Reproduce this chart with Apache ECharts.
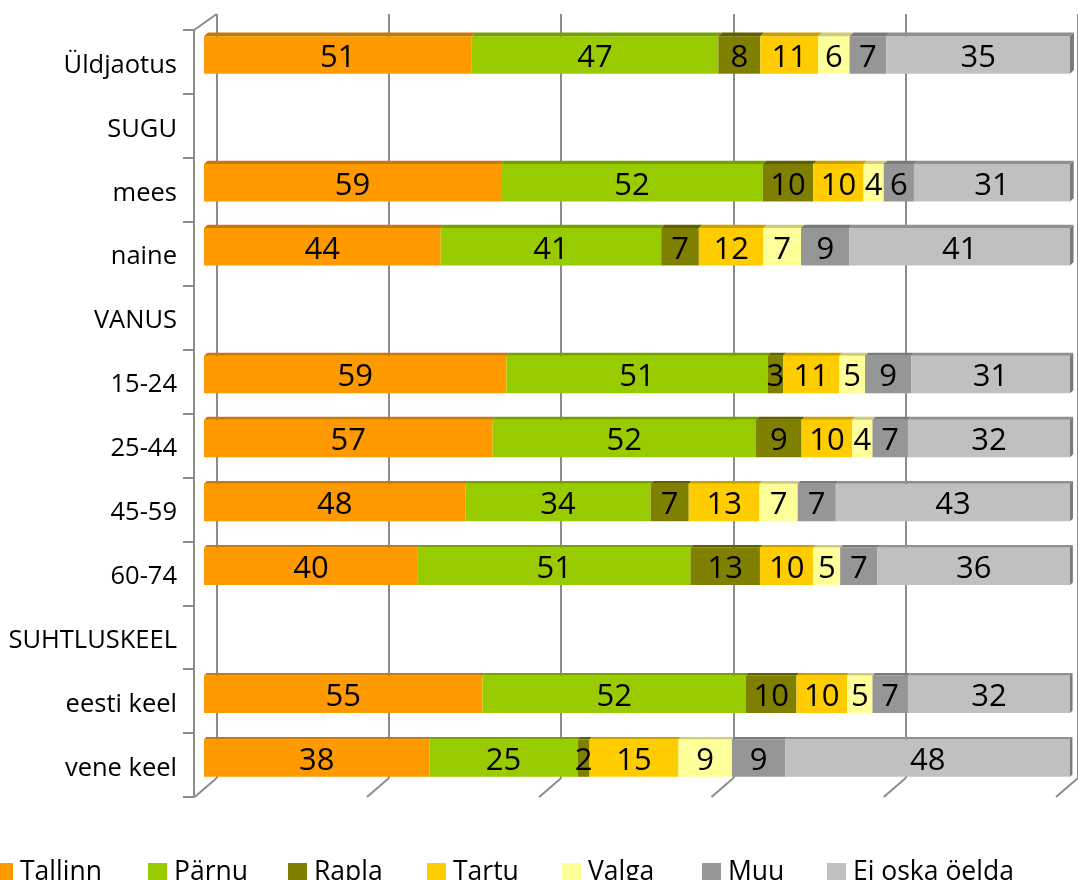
<!DOCTYPE html>
<html>
<head>
<meta charset="utf-8">
<script src="https://cdn.jsdelivr.net/npm/echarts@6/dist/echarts.min.js"></script>
<style>
html,body{margin:0;padding:0;background:#fff;}
#chart{width:1078px;height:880px;}
</style>
</head>
<body>
<div id="chart"></div>
<script>
const categories = ['Üldjaotus','SUGU','mees','naine','VANUS','15-24','25-44','45-59','60-74','SUHTLUSKEEL','eesti keel','vene keel'];
const seriesNames = ['Tallinn','Pärnu','Rapla','Tartu','Valga','Muu','Ei oska öelda'];
const tallinn = [51,null,59,44,null,59,57,48,40,null,55,38];
const parnu   = [47,null,52,41,null,51,52,34,51,null,52,25];
const rapla   = [8,null,10,7,null,3,9,7,13,null,10,2];
const tartu   = [11,null,10,12,null,11,10,13,10,null,10,15];
const valga   = [6,null,4,7,null,5,4,7,5,null,5,9];
const muu     = [7,null,6,9,null,9,7,7,7,null,7,9];
const eiOska  = [35,null,31,41,null,31,32,43,36,null,32,48];
const gridTicks = [0,20,40,60,80,100];

const raw = [tallinn, parnu, rapla, tartu, valga, muu, eiOska];
const colors = ['#FF9900','#99CC00','#808000','#FFCC00','#FFFF99','#969696','#C0C0C0'];
const topColors = ['#C47A08','#76A000','#5F5F00','#CCA000','#CCCC7A','#7A7A7A','#909090'];
const sideColors = ['#B06A00','#6A8F00','#505000','#B08C00','#B0B070','#6A6A6A','#7A7A7A'];

const totals = categories.map((c, i) => {
  let s = 0; let any = false;
  raw.forEach(a => { if (a[i] != null) { s += a[i]; any = true; } });
  return any ? s : null;
});
const pct = raw.map(a => a.map((v, i) => v == null ? null : v / totals[i] * 100));

const FONT = 'Open Sans';
const BAR_W = 37.5;

const barSeries = seriesNames.map((name, si) => ({
  name: name,
  type: 'bar',
  stack: 'all',
  xAxisIndex: 0, yAxisIndex: 0,
  barWidth: BAR_W,
  itemStyle: { color: colors[si] },
  label: {
    show: true, position: 'inside', color: '#000', fontSize: 31, fontFamily: FONT,
    textBorderWidth: 0, offset: [0, 3],
    formatter: p => raw[si][p.dataIndex] == null ? '' : String(raw[si][p.dataIndex])
  },
  emphasis: { disabled: true },
  z: 3,
  data: pct[si]
}));

// 3D faces (top and right side) drawn via scales
const faceData = [];
categories.forEach((c, ri) => {
  seriesNames.forEach((n, si) => { if (raw[si][ri] != null) faceData.push([ri, si]); });
});
const faceSeries = {
  type: 'custom',
  xAxisIndex: 0, yAxisIndex: 0,
  silent: true,
  z: 4,
  data: faceData,
  renderItem: function (params, api) {
    const ri = api.value(0), si = api.value(1);
    let start = 0;
    for (let k = 0; k < si; k++) start += pct[k][ri] || 0;
    const end = start + pct[si][ri];
    const p0 = api.coord([start, ri]);
    const p1 = api.coord([end, ri]);
    const dy = 3.6 - 1.4 * (ri / 11);
    const dx = dy * 1.1;
    const yTop = p0[1] - BAR_W / 2;
    const yBot = p0[1] + BAR_W / 2;
    const children = [{
      type: 'polygon',
      shape: { points: [[p0[0], yTop], [p1[0], yTop], [p1[0] + dx, yTop - dy], [p0[0] + dx, yTop - dy]] },
      style: { fill: topColors[si] }
    }];
    if (si === seriesNames.length - 1) {
      children.push({
        type: 'polygon',
        shape: { points: [[p1[0], yTop], [p1[0] + dx, yTop - dy], [p1[0] + dx, yBot - dy], [p1[0], yBot]] },
        style: { fill: sideColors[si] }
      });
    }
    return { type: 'group', children: children };
  }
};

// floor diagonals of the back wall gridlines
const floorSeries = {
  type: 'custom',
  xAxisIndex: 2, yAxisIndex: 2,
  silent: true,
  z: 1,
  data: gridTicks.map(v => [v]),
  renderItem: function (params, api) {
    const v = api.value(0);
    const b = api.coord([v, 0]);
    const children = [{
      type: 'line',
      shape: { x1: b[0], y1: b[1], x2: b[0] - 22, y2: b[1] + 19 },
      style: { stroke: '#8c8c8c', lineWidth: 2 }
    }];
    if (v === 0) {
      const t = api.coord([0, 1]);
      children.push({
        type: 'line',
        shape: { x1: t[0], y1: t[1], x2: t[0] - 22.5, y2: t[1] + 16 },
        style: { stroke: '#8c8c8c', lineWidth: 2 }
      });
    }
    return { type: 'group', children: children };
  }
};

const legendLefts = [-6, 148, 288, 427, 562, 702, 827];
const legends = seriesNames.map((n, i) => ({
  data: [n],
  left: legendLefts[i],
  top: 859,
  padding: 0,
  itemWidth: 19, itemHeight: 19, itemGap: 7,
  icon: 'rect',
  textStyle: { fontSize: 26.5, fontFamily: FONT, color: '#000', padding: [0, 0, 0, 2] }
}));

const option = {
  backgroundColor: '#fff',
  animation: false,
  legend: legends,
  grid: [
    { left: 204, top: 23, width: 866, height: 767 },
    { left: 194, top: 30, width: 866, height: 767 },
    { left: 216.7, top: 14, width: 866.5, height: 764 }
  ],
  xAxis: [
    { gridIndex: 0, type: 'value', min: 0, max: 100, show: false },
    { gridIndex: 1, type: 'value', min: 0, max: 100, show: false },
    { gridIndex: 2, type: 'value', min: 0, max: 100, interval: 20,
      axisLine: { show: false }, axisTick: { show: false }, axisLabel: { show: false },
      splitLine: { show: true, lineStyle: { color: '#8c8c8c', width: 2 } } }
  ],
  yAxis: [
    { gridIndex: 0, type: 'category', data: categories, inverse: true, show: false },
    { gridIndex: 1, type: 'category', data: categories, inverse: true,
      axisLine: { show: true, lineStyle: { color: '#8c8c8c', width: 2 } },
      axisTick: { show: true, length: 11, interval: 0, lineStyle: { color: '#8c8c8c', width: 2 } },
      axisLabel: { show: true, interval: 0, margin: 17, color: '#000', fontSize: 25.5, fontFamily: FONT,
        formatter: v => '{a|' + v + '}',
        rich: { a: { fontSize: 25.5, fontFamily: FONT, color: '#000', padding: [7, 0, 0, 0] } } },
      splitLine: { show: false } },
    { gridIndex: 2, type: 'value', min: 0, max: 1, show: false }
  ],
  series: [floorSeries].concat(barSeries).concat([faceSeries])
};

const chart = echarts.init(document.getElementById('chart'), null, { renderer: 'canvas' });
chart.setOption(option);
</script>
</body>
</html>
